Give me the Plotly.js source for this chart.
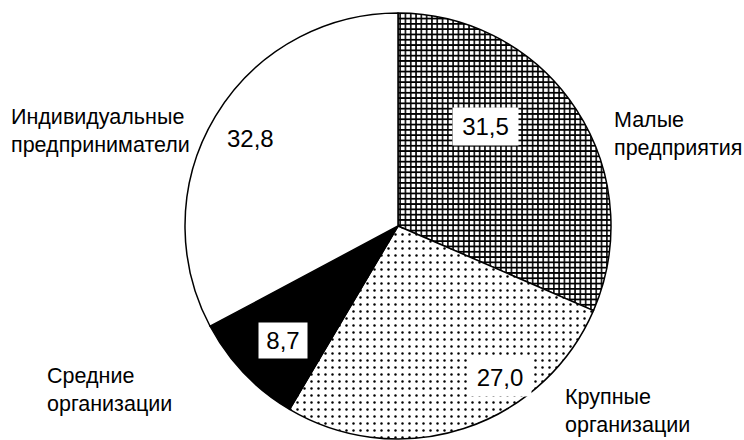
<!DOCTYPE html>
<html>
<head>
<meta charset="utf-8">
<script src="https://cdn.plot.ly/plotly-3.0.1.min.js"></script>
<style>html,body{margin:0;padding:0;background:#fff;}#chart{width:744px;height:440px;}</style>
</head>
<body>
<div id="chart"></div>
<script>
// Data
const categories = ["Малые предприятия", "Крупные организации", "Средние организации", "Индивидуальные предприниматели"];
const labelLines = [["Малые", "предприятия"], ["Крупные", "организации"], ["Средние", "организации"], ["Индивидуальные", "предприниматели"]];
const values = [31.5, 27.0, 8.7, 32.8];

// Styles / positions (pixels in the 744x440 frame)
const W = 744, H = 440;
const cx = 398, cy = 226, R = 213;
const fill = ["white", "white", "black", "white"];
const shapes = ["+", ".", "", ""];
const valuePos = [[485, 127], [500, 377], [283, 340], [251, 138]];
const valueBox = [[63, 35], [60, 35], [46, 33], [null, null]];
const catPos = [[612, 134], [563, 411], [45, 390], [9, 131]];

const px = x => x / W;
const py = y => 1 - y / H;
const fmt = v => v.toFixed(1).replace('.', ',');

const trace = {
  type: 'pie',
  labels: categories,
  values: values,
  sort: false,
  direction: 'clockwise',
  rotation: 0,
  textinfo: 'none',
  hoverinfo: 'none',
  showlegend: false,
  domain: {x: [px(cx - R), px(cx + R)], y: [py(cy + R), py(cy - R)]},
  marker: {
    colors: fill,
    line: {color: 'black', width: 1.5},
    pattern: {
      shape: shapes,
      fgcolor: 'black',
      bgcolor: fill,
      size: [5.3, 7, 8, 8],
      solidity: [0.5, 0.1, 0.3, 0.3]
    }
  }
};

const annotations = [];
values.forEach((v, i) => {
  const a = {
    xref: 'paper', yref: 'paper',
    x: px(valuePos[i][0]), y: py(valuePos[i][1]),
    xanchor: 'center', yanchor: 'middle',
    text: fmt(v), showarrow: false,
    font: {family: 'Liberation Sans, Arial, sans-serif', size: 24, color: '#000'},
    borderpad: 1
  };
  if (valueBox[i][0]) {
    a.bgcolor = 'white';
    a.width = valueBox[i][0];
    a.height = valueBox[i][1];
  }
  annotations.push(a);
  annotations.push({
    xref: 'paper', yref: 'paper',
    x: px(catPos[i][0]), y: py(catPos[i][1]),
    xanchor: 'left', yanchor: 'middle', align: 'left',
    text: labelLines[i].join('<br>'), showarrow: false,
    font: {family: 'Liberation Sans, Arial, sans-serif', size: 21.5, color: '#000'}
  });
});

const layout = {
  width: W, height: H,
  margin: {l: 0, r: 0, t: 0, b: 0},
  paper_bgcolor: 'white',
  plot_bgcolor: 'white',
  annotations: annotations
};

Plotly.newPlot('chart', [trace], layout, {staticPlot: true, displayModeBar: false});
</script>
</body>
</html>
